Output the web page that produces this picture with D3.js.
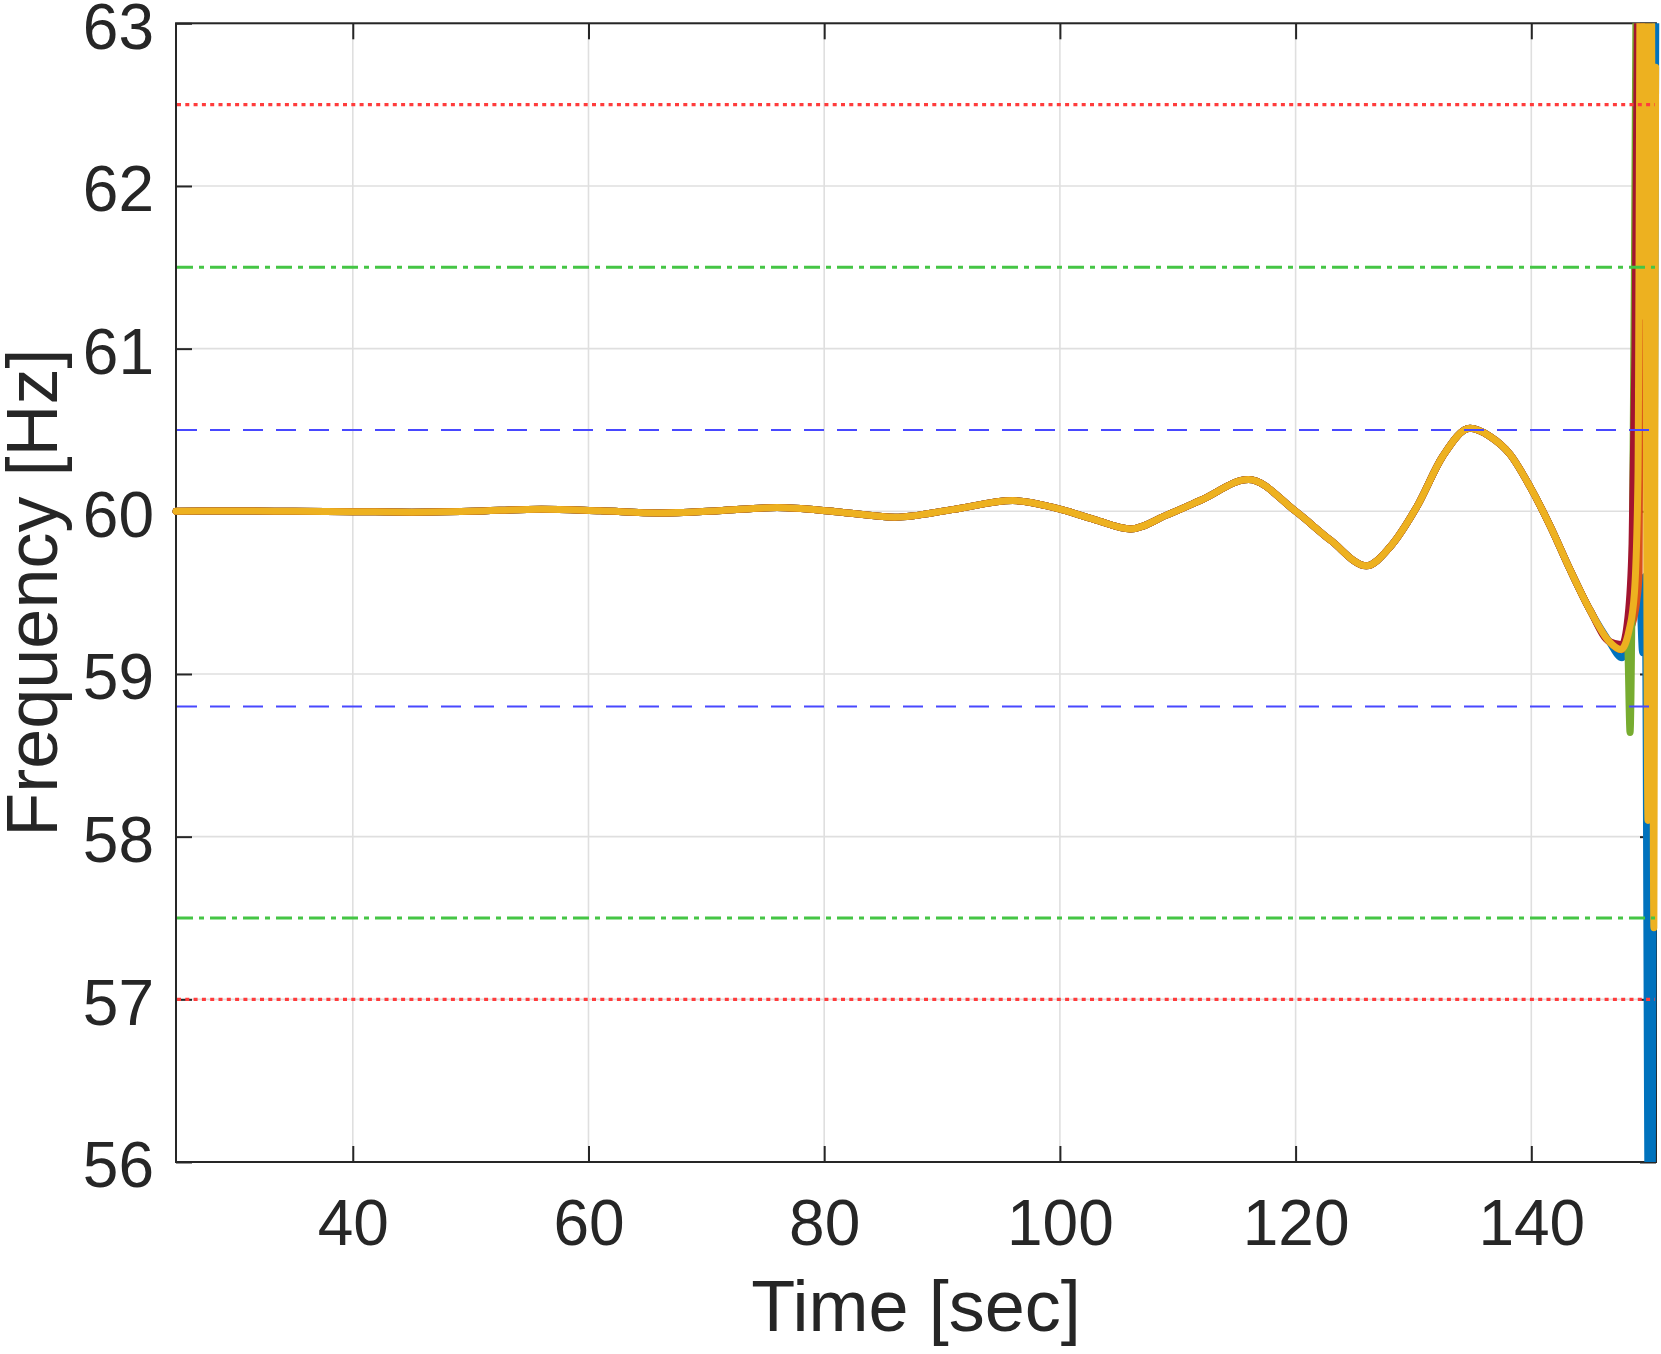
<!DOCTYPE html>
<html>
<head>
<meta charset="utf-8">
<script src="https://cdn.jsdelivr.net/npm/d3@7"></script>
<style>
  html, body { margin: 0; padding: 0; background: #fff; }
  svg { display: block; }
  text { font-family: "Liberation Sans", Arial, Helvetica, sans-serif; fill: #262626; }
</style>
</head>
<body>
<svg id="chart" width="1661" height="1354"></svg>
<script>
// ---- Data ----
const xTicks = [40, 60, 80, 100, 120, 140];
const yTicks = [56, 57, 58, 59, 60, 61, 62, 63];
const xLabel = "Time [sec]";
const yLabel = "Frequency [Hz]";

// Common trajectory shared by all series (time in s, frequency in Hz)
const baseTime = [25, 30, 35, 40, 45, 50, 56, 61, 66, 71, 76, 81, 86, 91, 96, 100, 103, 106, 109, 112, 116, 120, 123, 126, 128, 130.3, 132.5, 134.8, 136.5, 138.2, 139.9, 141.6, 143.3, 145, 146.6];
const baseFreq = [60.0, 60.002, 60.0, 59.998, 59.995, 60.0, 60.013, 60.003, 59.99, 60.004, 60.023, 59.998, 59.964, 60.012, 60.066, 60.013, 59.948, 59.892, 59.975, 60.07, 60.195, 60.0, 59.82, 59.665, 59.78, 60.03, 60.34, 60.51, 60.46, 60.35, 60.15, 59.91, 59.64, 59.39, 59.20];

// Individual end-of-record behaviour per series
const blueTailTime   = [147.7, 148.3, 148.9, 149.15, 149.45, 149.65, 149.95, 150.25, 150.6];
const blueTailFreq   = [59.10, 59.22, 59.46, 59.55, 59.13, 59.6, 55.5, 55.5, 64];
const orangeTailTime = [147.7, 148.4, 148.95, 149.15, 149.4];
const orangeTailFreq = [59.15, 59.27, 59.45, 59.62, 64];
const greenTailTime  = [147.7, 148.15, 148.38, 148.55, 148.75, 148.95];
const greenTailFreq  = [59.17, 59.22, 58.64, 59.5, 61.5, 64];
const redTailTime    = [147.7, 148.2, 148.55, 148.8, 149.1];
const redTailFreq    = [59.18, 59.35, 59.8, 61.0, 64];
const yellowTailTime = [147.6, 148.3, 148.75, 149.05, 149.3, 149.45, 149.6, 149.9, 150.15, 150.4, 150.55];
const yellowTailFreq = [59.15, 59.27, 59.5, 60.2, 64, 61.2, 64, 58.1, 64, 57.44, 62.73];

const seriesNames  = ["blue", "orange", "green", "red", "yellow"];
const seriesColors = ["#0072BD", "#D95319", "#77AC30", "#A2142F", "#EDB120"];
const seriesTails  = [[blueTailTime, blueTailFreq], [orangeTailTime, orangeTailFreq], [greenTailTime, greenTailFreq], [redTailTime, redTailFreq], [yellowTailTime, yellowTailFreq]];

// Limit lines
const limitValues = [62.5, 57, 61.5, 57.5, 60.5, 58.8];
const limitKinds  = ["red", "red", "green", "green", "blue", "blue"];

// ---- Layout ----
const x0 = 176, x1 = 1656, y0 = 23.3, y1 = 1162;
const svg = d3.select("#chart");

const x = d3.scaleLinear().domain([25, 150.58]).range([x0, x1]);
const y = d3.scaleLinear().domain([56, 63]).range([y1, y0]);

// grid
const grid = svg.append("g");
grid.selectAll(".gx").data(xTicks).join("line")
  .attr("x1", d => x(d)).attr("x2", d => x(d)).attr("y1", y0).attr("y2", y1)
  .attr("stroke", "#dfdfdf").attr("stroke-width", 1.6);
grid.selectAll(".gy").data(yTicks).join("line")
  .attr("x1", x0).attr("x2", x1).attr("y1", d => y(d)).attr("y2", d => y(d))
  .attr("stroke", "#dfdfdf").attr("stroke-width", 1.6);

// axes (ticks inward on all sides)
const tickLen = 16;
const fontTick = 64;
const fmt = d3.format("d");
const axB = svg.append("g").attr("transform", `translate(0,${y1})`)
  .call(d3.axisBottom(x).tickValues(xTicks).tickFormat(fmt).tickSizeInner(-tickLen).tickSizeOuter(0).tickPadding(38));
const axT = svg.append("g").attr("transform", `translate(0,${y0})`)
  .call(d3.axisTop(x).tickValues(xTicks).tickSizeInner(-tickLen).tickSizeOuter(0).tickFormat(""));
const axL = svg.append("g").attr("transform", `translate(${x0},0)`)
  .call(d3.axisLeft(y).tickValues(yTicks).tickFormat(fmt).tickSizeInner(-tickLen).tickSizeOuter(0).tickPadding(22));
const axR = svg.append("g").attr("transform", `translate(${x1},0)`)
  .call(d3.axisRight(y).tickValues(yTicks).tickSizeInner(-tickLen).tickSizeOuter(0).tickFormat(""));
[axB, axT, axL, axR].forEach(a => {
  a.select(".domain").remove();
  a.selectAll(".tick line").attr("stroke", "#262626").attr("stroke-width", 2);
  a.selectAll("text").attr("font-size", fontTick).attr("fill", "#262626")
    .attr("font-family", '"Liberation Sans", Arial, Helvetica, sans-serif');
});
axB.selectAll("text").attr("dy", "0.71em");
axL.selectAll("text").attr("dy", "0.39em");

// box
svg.append("rect").attr("x", x0).attr("y", y0).attr("width", x1 - x0).attr("height", y1 - y0)
  .attr("fill", "none").attr("stroke", "#262626").attr("stroke-width", 2);

// clip for data
svg.append("defs").append("clipPath").attr("id", "clip")
  .append("rect").attr("x", x0 - 5).attr("y", y0).attr("width", x1 - x0 + 10).attr("height", y1 - y0);

const line = d3.line().x(d => x(d[0])).y(d => y(d[1])).curve(d3.curveMonotoneX);
const dataG = svg.append("g").attr("clip-path", "url(#clip)");
seriesNames.forEach((name, i) => {
  const pts = baseTime.map((t, j) => [t, baseFreq[j]]);
  const [tt, ff] = seriesTails[i];
  tt.forEach((t, j) => pts.push([t, ff[j]]));
  dataG.append("path").datum(pts)
    .attr("d", line)
    .attr("fill", "none")
    .attr("stroke", seriesColors[i])
    .attr("stroke-width", 7)
    .attr("stroke-linejoin", "round")
    .attr("stroke-linecap", "round");
});

// limit lines (drawn on top)
const limStyle = {
  red:   { color: "#ff3c3c", dash: "4 4.3", width: 3.3 },
  green: { color: "#45c545", dash: "16 6 5 6", width: 3 },
  blue:  { color: "#4848ff", dash: "20 13", width: 2.2 }
};
svg.append("g").selectAll("line").data(limitValues).join("line")
  .attr("x1", x0 + 1).attr("x2", x1 - 1)
  .attr("y1", d => y(d)).attr("y2", d => y(d))
  .attr("stroke", (d, i) => limStyle[limitKinds[i]].color)
  .attr("stroke-width", (d, i) => limStyle[limitKinds[i]].width)
  .attr("stroke-dasharray", (d, i) => limStyle[limitKinds[i]].dash);

// axis labels
svg.append("text").attr("x", (x0 + x1) / 2).attr("y", 1331)
  .attr("text-anchor", "middle").attr("font-size", 72).text(xLabel);
svg.append("text").attr("transform", `translate(57,${(y0 + y1) / 2}) rotate(-90)`)
  .attr("text-anchor", "middle").attr("font-size", 72).text(yLabel);
</script>
</body>
</html>
